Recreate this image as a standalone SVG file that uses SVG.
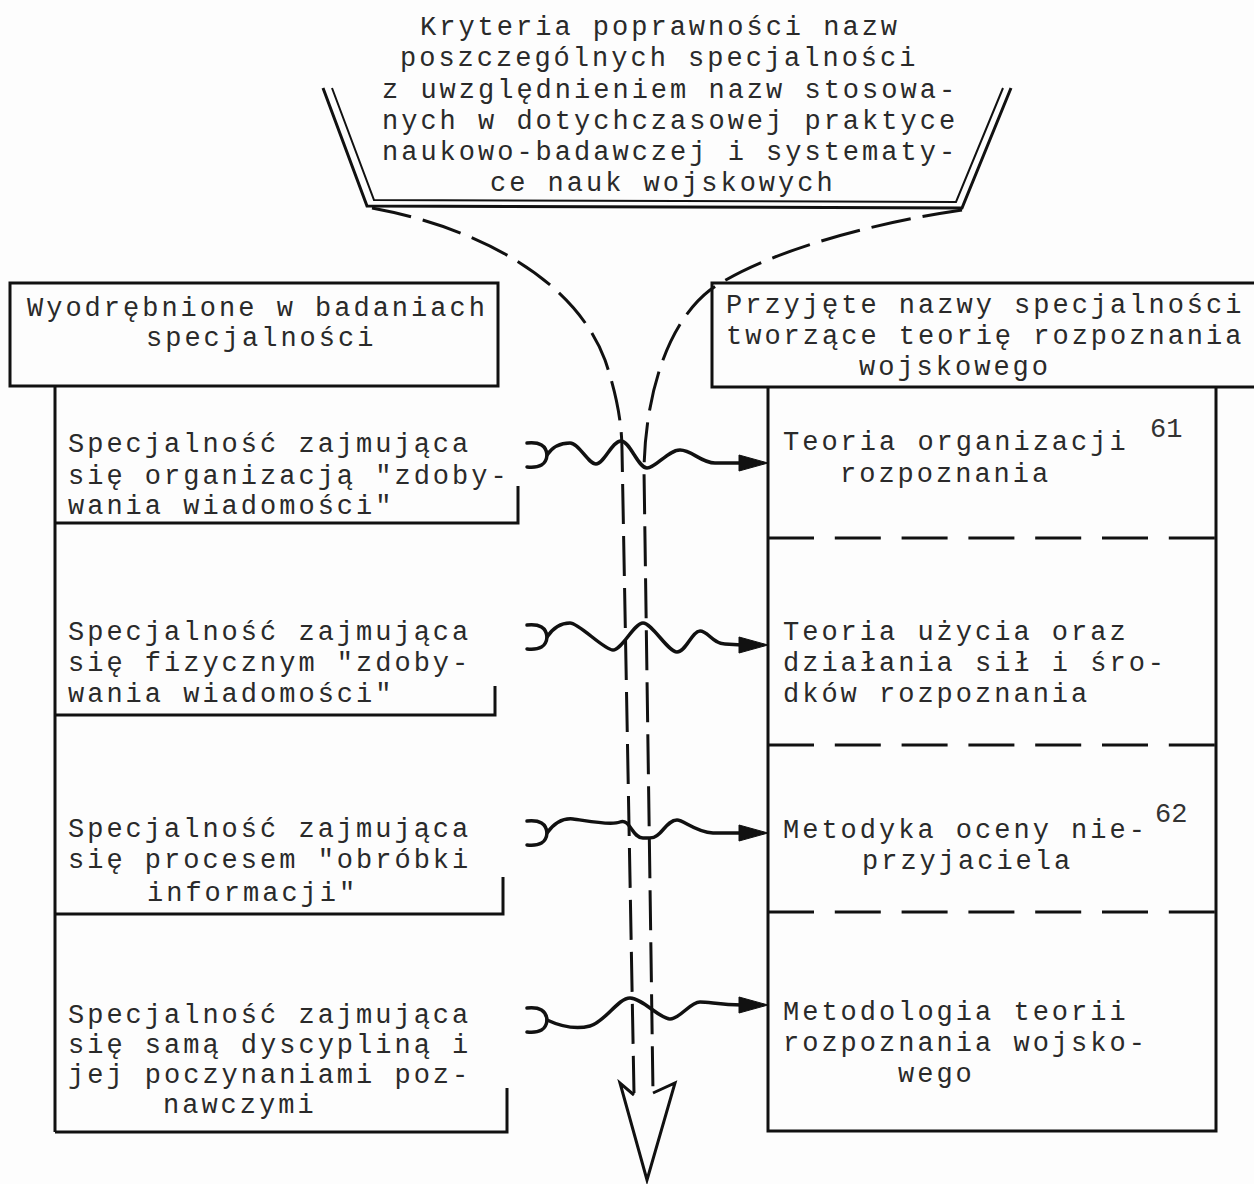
<svg xmlns="http://www.w3.org/2000/svg" width="1254" height="1184" viewBox="0 0 1254 1184">
<defs>
<style>
.t{font-family:"Liberation Mono","DejaVu Sans Mono",monospace;font-size:27px;letter-spacing:3px;fill:#2a2a2a}
.sup{font-family:"Liberation Mono","DejaVu Sans Mono",monospace;font-size:27px;fill:#333}
.ln{fill:none;stroke:#111;stroke-width:3}
.thin{fill:none;stroke:#111;stroke-width:2}
.dash{fill:none;stroke:#111;stroke-width:3;stroke-dasharray:40 12}
.sep{fill:none;stroke:#111;stroke-width:3;stroke-dasharray:46 20.8}
.wave{fill:none;stroke:#111;stroke-width:3.5;stroke-linecap:round}
.head{fill:#111;stroke:#111;stroke-width:1}
</style>
</defs>
<rect width="1254" height="1184" fill="#fdfdfd"/>

<g id="criteria">
<path class="ln" d="M323,88 L367,206 L962,208 L1011,88"/>
<path class="thin" d="M332,88 L374,200 L956,202 L1003,88"/>
<text class="t" x="420" y="35">Kryteria poprawności nazw</text>
<text class="t" x="400" y="66">poszczególnych specjalności</text>
<text class="t" x="382" y="98">z uwzględnieniem nazw stosowa-</text>
<text class="t" x="382" y="129">nych w dotychczasowej praktyce</text>
<text class="t" x="382" y="160">naukowo-badawczej i systematy-</text>
<text class="t" x="490" y="191">ce nauk wojskowych</text>
</g>

<g id="left-header">
<rect class="ln" x="10" y="283" width="488" height="103"/>
<text class="t" x="27" y="316">Wyodrębnione w badaniach</text>
<text class="t" x="146" y="346">specjalności</text>
</g>

<g id="left-column">
<path class="ln" d="M55,386 V1132"/>
</g>

<g id="left-1">
<path class="ln" d="M55,523 H518 V486"/>
<text class="t" x="68" y="452">Specjalność zajmująca</text>
<text class="t" x="68" y="484">się organizacją "zdoby-</text>
<text class="t" x="68" y="514">wania wiadomości"</text>
</g>

<g id="left-2">
<path class="ln" d="M55,715 H495 V686"/>
<text class="t" x="68" y="640">Specjalność zajmująca</text>
<text class="t" x="68" y="671">się fizycznym "zdoby-</text>
<text class="t" x="68" y="702">wania wiadomości"</text>
</g>

<g id="left-3">
<path class="ln" d="M55,914 H503 V877"/>
<text class="t" x="68" y="837">Specjalność zajmująca</text>
<text class="t" x="68" y="868">się procesem "obróbki</text>
<text class="t" x="147" y="901">informacji"</text>
</g>

<g id="left-4">
<path class="ln" d="M55,1132 H507 V1088"/>
<text class="t" x="68" y="1023">Specjalność zajmująca</text>
<text class="t" x="68" y="1053">się samą dyscypliną i</text>
<text class="t" x="68" y="1083">jej poczynaniami poz-</text>
<text class="t" x="163" y="1113">nawczymi</text>
</g>

<g id="right-header">
<rect class="ln" x="712" y="283" width="560" height="104"/>
<text class="t" x="726" y="313">Przyjęte nazwy specjalności</text>
<text class="t" x="726" y="344">tworzące teorię rozpoznania</text>
<text class="t" x="859" y="375">wojskowego</text>
</g>

<g id="right-column">
<path class="ln" d="M768,387 V1131 H1216 V387"/>
</g>

<g id="right-1">
<text class="t" x="783" y="450">Teoria organizacji</text>
<text class="t" x="840" y="482">rozpoznania</text>
<text class="sup" x="1150" y="437">61</text>
<path class="sep" d="M768,538 H1216"/>
</g>

<g id="right-2">
<text class="t" x="783" y="640">Teoria użycia oraz</text>
<text class="t" x="783" y="671">działania sił i śro-</text>
<text class="t" x="783" y="702">dków rozpoznania</text>
<path class="sep" d="M768,745 H1216"/>
</g>

<g id="right-3">
<text class="t" x="783" y="838">Metodyka oceny nie-</text>
<text class="sup" x="1155" y="822">62</text>
<text class="t" x="862" y="869">przyjaciela</text>
<path class="sep" d="M768,912 H1216"/>
</g>

<g id="right-4">
<text class="t" x="783" y="1020">Metodologia teorii</text>
<text class="t" x="783" y="1051">rozpoznania wojsko-</text>
<text class="t" x="898" y="1082">wego</text>
</g>

<g id="connectors">
<path class="dash" d="M372,208 C480,228 575,280 605,360 C617,395 622,425 622,450 L634,1093"/>
<path class="dash" d="M962,210 C860,225 760,255 710,290 C665,325 645,400 644,470 L653,1093"/>
<path class="ln" stroke-linejoin="miter" d="M634,1095 L620,1083 L647,1180 L675,1083 L653,1093"/>

<path class="wave" d="M527,443 Q546,441 547,455 Q546,469 527,467"/>
<path class="wave" d="M547,455 C553,446 561,443 570,443 S588,464 596,464 S612,441 621,441 S638,468 647,468 S668,450 680,450 S701,463 715,463 L742,463"/>
<polygon class="head" points="739,455 768,463 739,471"/>

<path class="wave" d="M527,625 Q546,623 547,637 Q546,651 527,649"/>
<path class="wave" d="M547,637 C553,628 561,623 570,623 S604,650 613,650 S634,623 643,623 S668,652 677,652 S692,631 700,631 S713,644 725,644 L742,645"/>
<polygon class="head" points="739,637 768,645 739,653"/>

<path class="wave" d="M527,821 Q546,819 547,833 Q546,847 527,845"/>
<path class="wave" d="M547,833 C555,822 563,818 573,819 S610,826 620,822 S632,838 643,838 S655,838 660,833 S670,820 677,820 S695,832 713,833 L742,833"/>
<polygon class="head" points="739,825 768,833 739,841"/>

<path class="wave" d="M527,1008 Q546,1006 547,1020 Q546,1034 527,1032"/>
<path class="wave" d="M547,1020 C560,1026 575,1030 590,1026 S618,998 630,998 S660,1019 670,1019 S690,1002 700,1002 S720,1005 742,1005"/>
<polygon class="head" points="739,997 768,1005 739,1013"/>
</g>
</svg>
